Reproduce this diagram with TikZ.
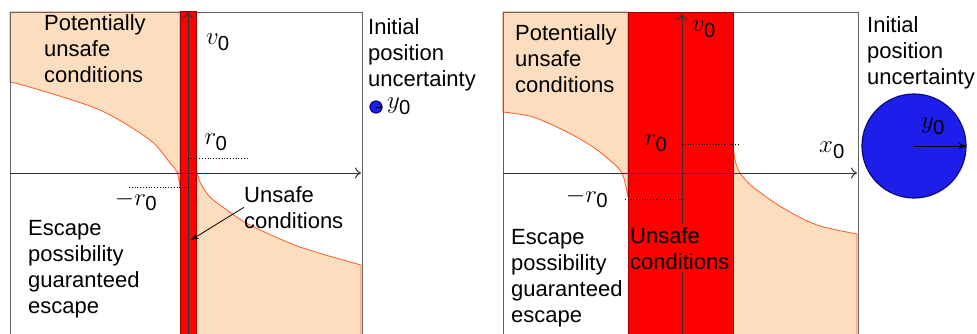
\documentclass[tikz,border=0pt]{standalone}
\usepackage{fontspec}
\setmainfont{Liberation Sans}
\setsansfont{Liberation Sans}
\usetikzlibrary{arrows.meta}
\definecolor{peach}{RGB}{252,221,190}
\definecolor{edgeorange}{RGB}{255,90,40}
\definecolor{darkred}{RGB}{160,0,0}
\definecolor{boxgray}{RGB}{100,100,100}
\definecolor{navyline}{RGB}{10,10,120}
\definecolor{fillblue}{RGB}{30,30,235}

\begin{document}
\begin{tikzpicture}[x=1pt,y=-1pt,
    txt/.style={anchor=north west,inner sep=0pt,align=left,font=\fontsize{22}{26}\selectfont},
    lbl/.style={inner sep=0pt,font=\fontsize{29}{32}\selectfont},
    axis/.style={draw=black!80,line width=1pt,-{To[length=6pt,width=11pt]}},
    zone/.style={fill=peach,draw=edgeorange,line width=0.8pt},
    band/.style={fill=red,draw=darkred,line width=1pt},
    guide/.style={dotted,line width=0.8pt},
    blob/.style={circle,fill=fillblue,draw=navyline,line width=1.2pt,inner sep=0pt}]
\useasboundingbox (0,0) rectangle (977,333);
\clip (0,0) rectangle (977,333);

% left panel
\draw[zone] plot[smooth,tension=0.5] coordinates {(10,82) (33,88) (100,110) (150,140) (170,163) (177,172) (180,187)}
    -- (180,12) -- (10,12) -- cycle;
\draw[zone] plot[smooth,tension=0.5] coordinates {(196,168) (200,182) (210,197) (227,210) (250,225) (300,247) (361,265)}
    -- (361,340) -- (196,340) -- cycle;
\draw[boxgray,line width=1pt] (10,340) -- (10,12) -- (362,12) -- (362,340);
\draw[band] (180,340) rectangle (196,11);
\draw[axis] (10,173) -- (361,173);
\draw[axis] (188,340) -- (188,12);
\draw[guide] (188,158) -- (247,158);
\draw[guide] (129,187) -- (188,187);

\node[lbl] (vL) at (218,42) {$v_{\mathsf{0}}$};
\node[lbl] (rL) at (216,142) {$r_{\mathsf{0}}$};
\node[lbl] (mrL) at (136,201) {$-r_{\mathsf{0}}$};
\node[txt] (potL) at (44,14) {Potentially\\unsafe\\conditions};
\node[txt] (escL) at (28,220) {Escape\\possibility\\guaranteed\\escape};
\node[txt] (unsL) at (244,186) {Unsafe\\conditions};
\coordinate (hitL) at (191,240);
\draw[-{Stealth[length=8pt]},line width=0.8pt] (unsL.west) -- (hitL);

\node[txt] (iniL) at (368,18) {Initial\\position\\uncertainty};
\node[blob,minimum size=12pt] (dot) at (376,107) {};
\draw[-{Stealth[length=3pt]},line width=0.6pt] (dot.center) -- (dot.east);
\node[lbl] (yL) at (399,106) {$y_{\mathsf{0}}$};

% right panel
\draw[zone] plot[smooth,tension=0.5] coordinates {(503,112) (533,117) (567,132) (593,147) (613,163) (622,173) (626,187) (628,197)}
    -- (628,12) -- (503,12) -- cycle;
\draw[zone] plot[smooth,tension=0.5] coordinates {(733,145) (735,160) (740,173) (753,187) (783,208) (817,225) (857,234)}
    -- (857,340) -- (733,340) -- cycle;
\draw[boxgray,line width=1pt] (503,340) -- (503,12) -- (858,12) -- (858,340);
\draw[band] (628,340) rectangle (733,12);
\draw[axis] (503,173) -- (857,173);
\draw[axis] (682,340) -- (682,14);
\draw[guide] (682,144) -- (740,144);
\draw[guide] (625,199) -- (682,199);

\node[lbl] (vR) at (704,29) {$v_{\mathsf{0}}$};
\node[lbl] (rR) at (656,143) {$r_{\mathsf{0}}$};
\node[lbl] (mrR) at (587,198) {$-r_{\mathsf{0}}$};
\node[lbl] (xR) at (832,150) {$x_{\mathsf{0}}$};
\node[txt] (potR) at (515,24) {Potentially\\unsafe\\conditions};
\node[txt] (escR) at (511,229) {Escape\\possibility\\guaranteed\\escape};
\node[txt,fill=red,inner ysep=3pt] (unsR) at (630,224) {Unsafe\\conditions};

\node[txt] (iniR) at (867,16) {Initial\\position\\uncertainty};
\node[blob,minimum size=104pt] (disc) at (914,146) {};
\draw[-{Stealth[length=8pt]},line width=0.8pt] (disc.center) -- (disc.east);
\node[lbl] (yR) at (933,126) {$y_{\mathsf{0}}$};
\end{tikzpicture}
\end{document}
